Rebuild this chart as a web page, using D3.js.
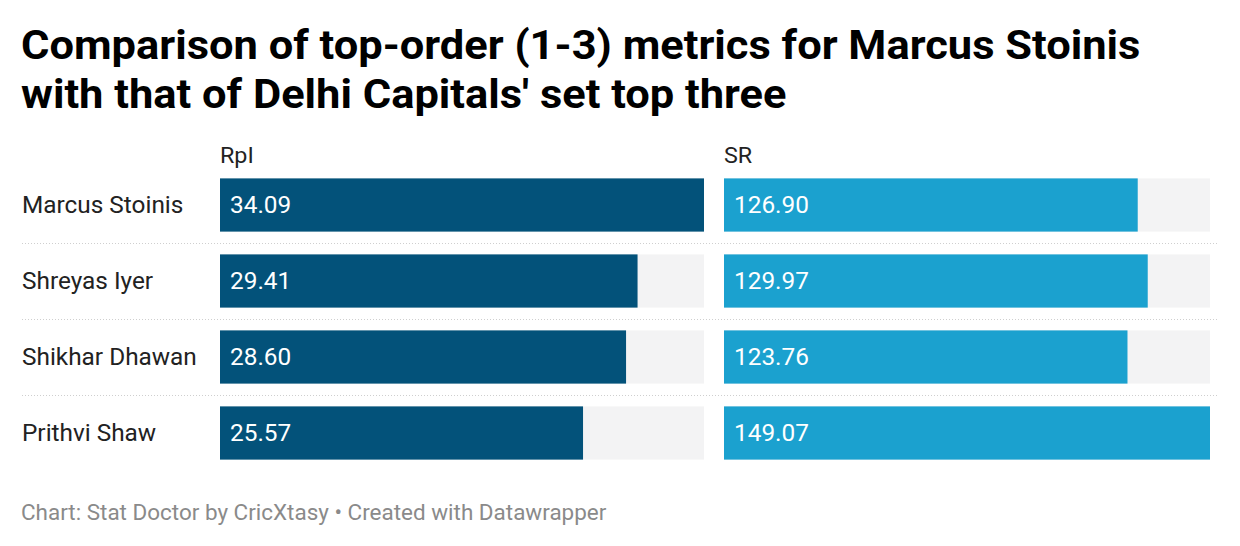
<!DOCTYPE html>
<html>
<head>
<meta charset="utf-8">
<script src="https://cdn.jsdelivr.net/npm/d3@7"></script>
<style>
  body { margin: 0; background: #fff; font-family: Roboto, sans-serif; }
</style>
</head>
<body>
<div id="chart"></div>
<script>
// data
const players = ["Marcus Stoinis", "Shreyas Iyer", "Shikhar Dhawan", "Prithvi Shaw"];
const rpi = [34.09, 29.41, 28.60, 25.57];
const sr = [126.90, 129.97, 123.76, 149.07];
const columns = ["RpI", "SR"];

const W = 1240, H = 546;
const sx = 1.06; // the reference text is a little wider than plain Roboto

const svg = d3.select("#chart").append("svg")
  .attr("width", W).attr("height", H);

// places a text at (x, y) with the horizontal stretch
const place = (x, y) => `translate(${x},${y}) scale(${sx},1)`;

// title
const title = svg.append("text")
  .attr("transform", place(21, 59))
  .style("font-size", "41px").style("font-weight", 700).style("fill", "#000");
title.append("tspan").attr("x", 0).text("Comparison of top-order (1-3) metrics for Marcus Stoinis");
title.append("tspan").attr("x", 0).attr("dy", 49).text("with that of Delhi Capitals' set top three");

// rows
const y = d3.scaleBand()
  .domain(players)
  .range([167, 471])
  .paddingInner(0.3)
  .paddingOuter(0.15);

const panels = [
  { name: columns[0], values: rpi, x0: 220, x1: 704, color: "#03527a" },
  { name: columns[1], values: sr, x0: 724, x1: 1210, color: "#1ba1cf" }
];

// dotted separators
const gap = y.step() * y.paddingInner() / 2;
svg.append("g").selectAll("line")
  .data(players.slice(1))
  .join("line")
  .attr("x1", 22).attr("x2", 1217)
  .attr("y1", d => Math.round(y(d) - gap) + 0.5)
  .attr("y2", d => Math.round(y(d) - gap) + 0.5)
  .attr("stroke", "#cfcfcf")
  .attr("stroke-width", 1)
  .attr("stroke-dasharray", "1,2");

// row labels
svg.append("g").selectAll("text")
  .data(players)
  .join("text")
  .attr("transform", d => place(22, y(d) + y.bandwidth() / 2))
  .attr("dy", "0.35em")
  .style("font-size", "23px")
  .style("fill", "#222")
  .text(d => d);

panels.forEach(p => {
  const x = d3.scaleLinear()
    .domain([0, d3.max(p.values)])
    .range([p.x0, p.x1]);

  const g = svg.append("g");

  g.append("text")
    .attr("transform", place(p.x0, 163))
    .style("font-size", "22px").style("fill", "#222")
    .text(p.name);

  // background tracks
  g.selectAll("rect.bg")
    .data(players)
    .join("rect")
    .attr("class", "bg")
    .attr("x", x(0)).attr("width", x.range()[1] - x(0))
    .attr("y", d => y(d)).attr("height", y.bandwidth())
    .attr("fill", "#f3f3f4");

  const data = players.map((name, i) => ({ name, v: p.values[i] }));

  g.selectAll("rect.bar")
    .data(data)
    .join("rect")
    .attr("class", "bar")
    .attr("x", x(0)).attr("width", d => x(d.v) - x(0))
    .attr("y", d => y(d.name)).attr("height", y.bandwidth())
    .attr("fill", p.color);

  g.selectAll("text.val")
    .data(data)
    .join("text")
    .attr("class", "val")
    .attr("transform", d => place(x(0) + 10, y(d.name) + y.bandwidth() / 2))
    .attr("dy", "0.35em")
    .style("font-size", "23px")
    .style("fill", "#fff")
    .text(d => d3.format(".2f")(d.v));
});

// footer
svg.append("text")
  .attr("transform", place(21, 520))
  .style("font-size", "21.2px").style("fill", "#8a8a8a")
  .text("Chart: Stat Doctor by CricXtasy \u2022 Created with Datawrapper");
</script>
</body>
</html>
